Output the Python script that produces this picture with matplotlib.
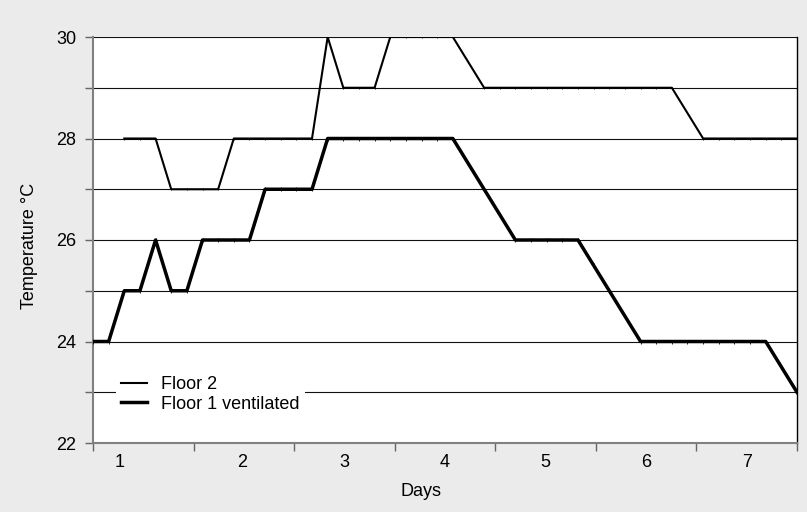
import matplotlib.pyplot as plt
import numpy as np

plt.rcParams['font.family'] = ['Liberation Sans', 'DejaVu Sans']

# readings taken every ~3.7 h over 7 days (46 samples)
day_labels = ['1', '2', '3', '4', '5', '6', '7']
floor2 = [np.nan, np.nan, 28, 28, 28, 27, 27, 27, 27, 28,
          28, 28, 28, 28, 28, 30, 29, 29, 29, 30,
          30, 30, 30, 30, 29.5, 29, 29, 29, 29, 29,
          29, 29, 29, 29, 29, 29, 29, 29, 28.5, 28,
          28, 28, 28, 28, 28, 28]
floor1 = [24, 24, 25, 25, 26, 25, 25, 26, 26, 26,
          26, 27, 27, 27, 27, 28, 28, 28, 28, 28,
          28, 28, 28, 28, 27.5, 27, 26.5, 26, 26, 26,
          26, 26, 25.5, 25, 24.5, 24, 24, 24, 24, 24,
          24, 24, 24, 24, 23.5, 23]

n = len(floor1)
x = np.arange(n)
per_day = (n - 1) / len(day_labels)
# where the day numbers sit, in days from the start
label_days = [0.26, 1.48, 2.5, 3.5, 4.5, 5.5, 6.5]

W, H = 807, 512
fig = plt.figure(figsize=(W / 100, H / 100), dpi=100, facecolor='#ebebeb')
ax = fig.add_axes([93 / W, 1 - 443 / H, 704 / W, 406 / H])
ax.set_facecolor('white')

ax.plot(x, floor2, color='black', lw=1.5, marker='|', ms=2, mew=0.6,
        label='Floor 2', zorder=3)
ax.plot(x, floor1, color='black', lw=2.5, marker='|', ms=3, mew=0.6,
        label='Floor 1 ventilated', zorder=3)

ax.set_xlim(0, n - 1)
ax.set_ylim(22, 30)

# y axis
ax.set_yticks(np.arange(22, 31, 2))
ax.set_yticks(np.arange(23, 30, 2), minor=True)
for v in range(22, 31):
    ax.axhline(v, color='#111111', lw=0.8, zorder=1)

# x axis: ticks at day boundaries, labels near day centres
ax.set_xticks([per_day * k for k in range(len(day_labels) + 1)])
ax.set_xticklabels([])
ax.set_xticks([per_day * d for d in label_days], minor=True)
ax.set_xticklabels(day_labels, minor=True)

ax.tick_params(axis='y', which='both', direction='out', length=6, width=1,
               color='#666666', labelsize=13, pad=6)
ax.tick_params(axis='x', which='major', direction='out', length=6, width=1,
               color='#666666')
ax.tick_params(axis='x', which='minor', length=0, labelsize=13, pad=8)

for side in ['left', 'bottom']:
    ax.spines[side].set_color('#808080')
    ax.spines[side].set_linewidth(1.5)
ax.spines['top'].set_visible(False)
ax.spines['right'].set_color('black')
ax.spines['right'].set_linewidth(1)

ax.set_xlabel('Days', fontsize=13)
ax.xaxis.label.set_va('center')
ax.xaxis.set_label_coords((421 - 93) / 704, (443 - 492) / 406)
ax.set_ylabel('Temperature °C', fontsize=13)
ax.yaxis.label.set_va('center')
ax.yaxis.set_label_coords((30 - 93) / 704, (443 - 246) / 406)

leg = ax.legend(loc='lower left', bbox_to_anchor=(107 / W, 1 - 427 / H),
                bbox_transform=fig.transFigure, fontsize=13, frameon=True,
                fancybox=False, framealpha=1, facecolor='white',
                edgecolor='none', borderpad=0.3, handlelength=1.4,
                handletextpad=0.8, labelspacing=0.15)
for line in leg.get_lines():
    line.set_marker('')

fig.savefig('out.png', dpi=100, facecolor=fig.get_facecolor())
